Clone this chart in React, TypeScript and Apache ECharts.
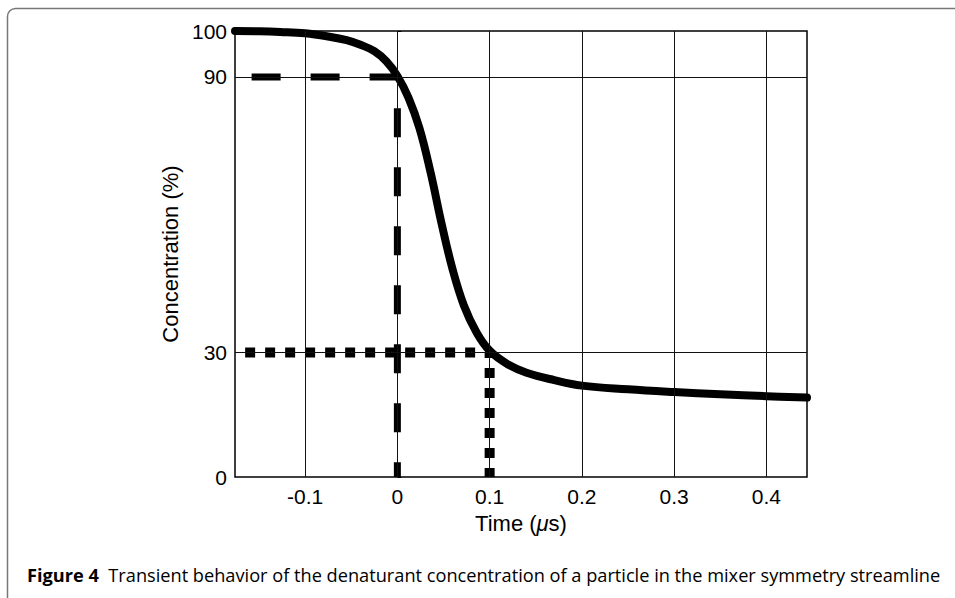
import React, { useEffect, useRef } from "react";
import * as echarts from "echarts";

// Axis range (the bottom of the y axis is labelled "0")
const X_MIN = -0.176;
const X_MAX = 0.444;
const Y_FLOOR = 2.9;
const Y_MAX = 100;

const xTicks = [-0.1, 0, 0.1, 0.2, 0.3, 0.4];
const yTicks = [Y_FLOOR, 30, 90, 100];
const yTickLabels = ["0", "30", "90", "100"];

// Concentration curve [time (µs), concentration (%)]
const curveTime = [
  -0.176, -0.15, -0.127, -0.1, -0.075, -0.055, -0.04, -0.025, -0.012,
  0, 0.012, 0.024, 0.036, 0.048, 0.06, 0.072, 0.086, 0.1,
  0.12, 0.14, 0.17, 0.2, 0.25, 0.3, 0.35, 0.4, 0.444,
];
const curveConc = [
  100, 99.95, 99.8, 99.5, 98.8, 98.0, 97.0, 95.6, 93.4,
  90.2, 85.5, 78.8, 69.2, 58, 48, 40.3, 34.3, 30.4,
  27.4, 25.6, 24.0, 22.8, 22.0, 21.4, 20.9, 20.5, 20.2,
];

// Guide lines
const guide90 = [[-0.158, 90], [0, 90], [0, Y_FLOOR]];
const guide30 = [[-0.165, 30], [0.1, 30], [0.1, Y_FLOOR]];

const gridX = [-0.1, 0, 0.1, 0.2, 0.3, 0.4];
const gridY = [30, 90];

const caption =
  "Transient behavior of the denaturant concentration of a particle in the mixer symmetry streamline";

export default function App() {
  const ref = useRef<HTMLDivElement>(null);
  useEffect(() => {
    if (!ref.current) return;
    const chart = echarts.init(ref.current, null, { renderer: "svg" });
    const font = "'Liberation Sans', Arial, sans-serif";
    chart.setOption({
      animation: false,
      backgroundColor: "#fff",
      grid: {
        left: 235,
        right: 148,
        top: 31,
        bottom: 121,
        show: true,
        borderColor: "#000",
        borderWidth: 1.5,
        backgroundColor: "transparent",
      },
      xAxis: {
        type: "value",
        min: X_MIN,
        max: X_MAX,
        axisLine: { show: false },
        splitLine: { show: false },
        axisTick: { show: true, inside: true, length: 4, customValues: xTicks, lineStyle: { color: "#000" } },
        axisLabel: {
          customValues: xTicks,
          formatter: (v: number) => String(Number(v.toFixed(1))),
          color: "#000",
          fontFamily: font,
          fontSize: 21,
          margin: 9,
        },
        name: "Time ({i|μ}s)",
        nameLocation: "middle",
        nameGap: 35,
        nameTextStyle: {
          color: "#000",
          fontFamily: font,
          fontSize: 22,
          rich: {
            i: { fontStyle: "italic", fontFamily: font, fontSize: 22, color: "#000" },
          },
        },
      },
      yAxis: {
        type: "value",
        min: Y_FLOOR,
        max: Y_MAX,
        axisLine: { show: false },
        splitLine: { show: false },
        axisTick: { show: true, inside: true, length: 4, customValues: yTicks, lineStyle: { color: "#000" } },
        axisLabel: {
          customValues: yTicks,
          formatter: (v: number) => {
            const i = yTicks.findIndex((t) => Math.abs(t - v) < 1e-6);
            return i >= 0 ? yTickLabels[i] : "";
          },
          color: "#000",
          fontFamily: font,
          fontSize: 21,
          margin: 8,
        },
        name: "Concentration (%)",
        nameLocation: "middle",
        nameGap: 51,
        nameTextStyle: { color: "#000", fontFamily: font, fontSize: 22 },
      },
      series: [
        {
          type: "line",
          data: [],
          z: 1,
          markLine: {
            silent: true,
            symbol: ["none", "none"],
            label: { show: false },
            lineStyle: { color: "#111", width: 1, type: "solid" },
            data: [
              ...gridX.map((x) => ({ xAxis: x })),
              ...gridY.map((y) => ({ yAxis: y })),
            ],
          },
        },
        {
          type: "line",
          data: guide90,
          z: 2,
          symbol: "none",
          lineStyle: { color: "#000", width: 7, type: [29, 30], cap: "butt" },
        },
        {
          type: "line",
          data: guide30,
          z: 2,
          symbol: "none",
          lineStyle: { color: "#000", width: 10, type: [10, 10], cap: "butt" },
        },
        {
          type: "line",
          data: curveTime.map((t, i) => [t, curveConc[i]]),
          z: 3,
          symbol: "none",
          smooth: 0.4,
          lineStyle: { color: "#000", width: 8, cap: "round", join: "round" },
        },
      ],
      graphic: [
        {
          type: "rect",
          shape: { x: 7.5, y: 8.5, width: 1000, height: 700, r: 8 },
          style: { fill: "none", stroke: "#777", lineWidth: 1.5 },
          silent: true,
        },
        {
          type: "text",
          left: 27,
          top: 566,
          style: {
            text: "{b|Figure 4}  " + caption,
            fontFamily: "'Open Sans', sans-serif",
            fontSize: 18.2,
            fill: "#000",
            rich: {
              b: { fontWeight: "bold", fontFamily: "'Open Sans', sans-serif", fontSize: 18.2, fill: "#000" },
            },
          },
        },
      ],
    });
    return () => chart.dispose();
  }, []);
  return (
    <div
      ref={ref}
      style={{ position: "fixed", left: 0, top: 0, width: 955, height: 598, background: "#fff" }}
    />
  );
}
